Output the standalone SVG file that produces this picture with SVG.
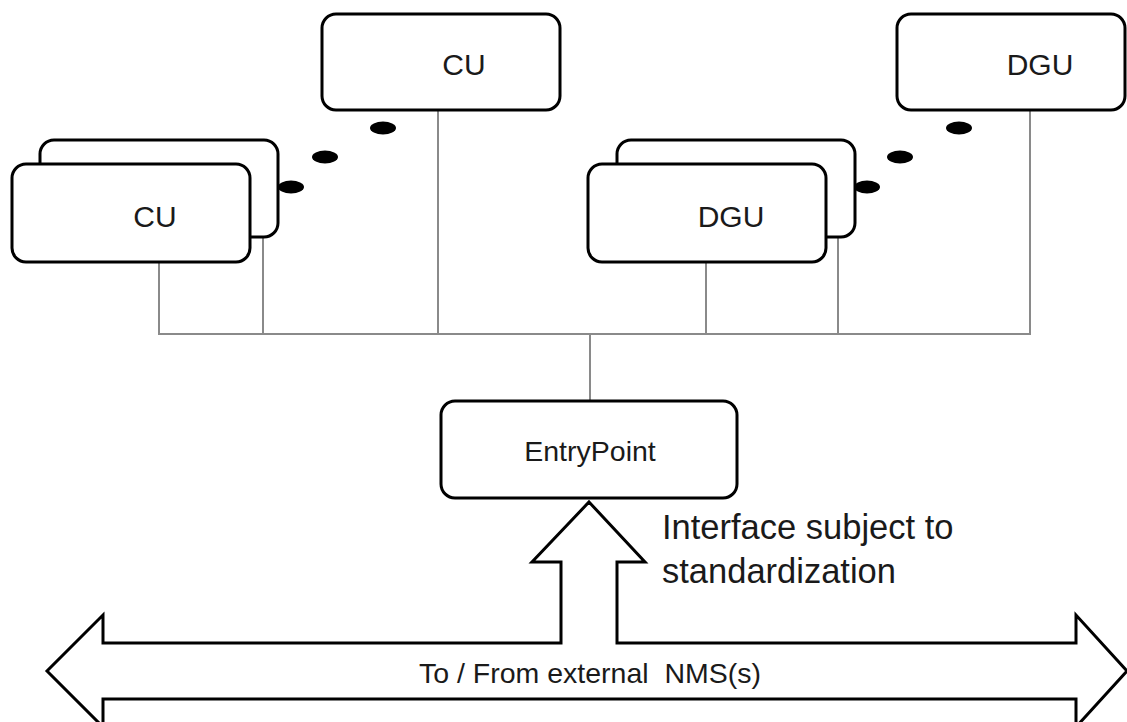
<svg xmlns="http://www.w3.org/2000/svg" width="1127" height="722" viewBox="0 0 1127 722">
<style>
.box{fill:#fff;stroke:#000;stroke-width:3}
.lbl{font-family:"Liberation Sans",Arial,sans-serif;font-size:30px;fill:#1a1a1a;text-anchor:middle}
.conn{stroke:#8a8a8a;stroke-width:2;fill:none}
.dot{fill:#000}
.arrow{fill:#fff;stroke:#000;stroke-width:3;stroke-linejoin:miter}
</style>
<rect width="1127" height="722" fill="#fff"/>
<g id="connectors">
<path class="conn" d="M159,262 V334 H1030 V111"/>
<path class="conn" d="M263,237 V334"/>
<path class="conn" d="M438,111 V334"/>
<path class="conn" d="M706,262 V334"/>
<path class="conn" d="M838,237 V334"/>
<path class="conn" d="M590,334 V401"/>
</g>
<g id="cu-stack">
<rect class="box" x="40" y="140" width="238" height="97" rx="14"/>
<rect class="box" x="12" y="164" width="238" height="98" rx="14"/>
<text class="lbl" x="155" y="227">CU</text>
</g>
<g id="cu-top">
<rect class="box" x="322" y="14" width="238" height="96" rx="14"/>
<text class="lbl" x="464" y="75">CU</text>
</g>
<g id="cu-dots">
<ellipse class="dot" cx="291" cy="187" rx="13" ry="6.5"/>
<ellipse class="dot" cx="325" cy="157" rx="13" ry="6.5"/>
<ellipse class="dot" cx="383" cy="128" rx="13" ry="6.5"/>
</g>
<g id="dgu-stack">
<rect class="box" x="617" y="140" width="238" height="97" rx="14"/>
<rect class="box" x="588" y="164" width="238" height="98" rx="14"/>
<text class="lbl" x="731" y="227">DGU</text>
</g>
<g id="dgu-top">
<rect class="box" x="897" y="14" width="228" height="96" rx="14"/>
<text class="lbl" x="1040" y="75">DGU</text>
</g>
<g id="dgu-dots">
<ellipse class="dot" cx="867" cy="187" rx="13" ry="6.5"/>
<ellipse class="dot" cx="900" cy="157" rx="13" ry="6.5"/>
<ellipse class="dot" cx="959" cy="128" rx="13" ry="6.5"/>
</g>
<g id="entrypoint">
<rect class="box" x="441" y="401" width="296" height="97" rx="14"/>
<text class="lbl" x="590" y="461" style="font-size:28.5px">EntryPoint</text>
</g>
<g id="nms-arrow">
<path class="arrow" d="M589,502 L645,562 H617 V643 H1076 V615 L1127,671 L1076,727 V699 H103 V727 L47,671 L103,615 V643 H561 V562 H532 Z"/>
<text class="lbl" x="590" y="683" style="font-size:28.5px;white-space:pre">To / From external  NMS(s)</text>
</g>
<g id="interface-label">
<text class="lbl" x="662" y="539" style="font-size:34.5px;text-anchor:start">Interface subject to</text>
<text class="lbl" x="662" y="583" style="font-size:34.5px;text-anchor:start">standardization</text>
</g>
</svg>
